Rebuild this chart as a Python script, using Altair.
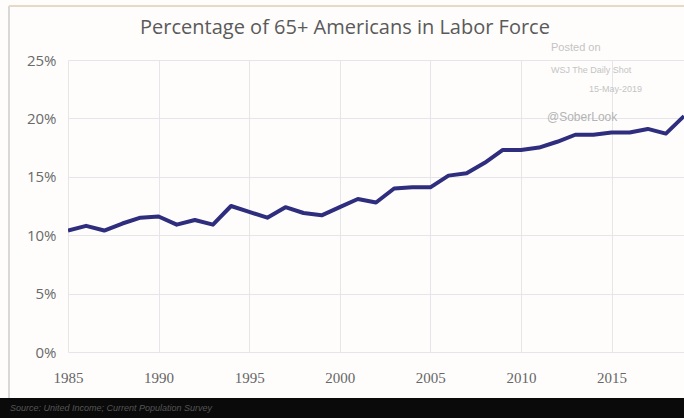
import altair as alt
import pandas as pd

years = list(range(1985, 2020))
share = [10.4, 10.8, 10.4, 11.0, 11.5, 11.6, 10.9, 11.3, 10.9, 12.5,
         12.0, 11.5, 12.4, 11.9, 11.7, 12.4, 13.1, 12.8, 14.0, 14.1,
         14.1, 15.1, 15.3, 16.2, 17.3, 17.3, 17.5, 18.0, 18.6, 18.6,
         18.8, 18.8, 19.1, 18.7, 20.2]
x_ticks = [1985, 1990, 1995, 2000, 2005, 2010, 2015]
y_ticks = [0, 5, 10, 15, 20, 25]

title_text = "Percentage of 65+ Americans in Labor Force"
source_text = "Source: United Income; Current Population Survey"
watermark = ["Posted on", "WSJ  The Daily Shot", "15-May-2019", "@SoberLook"]

df = pd.DataFrame({"year": years, "share": share})

W, H = 616, 292
L, T = 68, 60

x_enc = alt.X("year:Q", scale=alt.Scale(domain=[1985, 2019], nice=False),
              axis=alt.Axis(values=x_ticks, format="d", title=None, grid=True,
                            gridColor="#e6e6ea", gridWidth=1, domain=False, ticks=False,
                            labelFlush=False,
                            labelFont="Liberation Serif", labelFontSize=15,
                            labelColor="#666666", labelPadding=18))
y_enc = alt.Y("share:Q", scale=alt.Scale(domain=[0, 25], nice=False),
              axis=alt.Axis(values=y_ticks, title=None, grid=True,
                            gridColor="#e6e6ea", gridWidth=1, domain=False, ticks=False,
                            labelFlush=False,
                            labelExpr="datum.value + '%'",
                            labelFont="Open Sans", labelFontSize=15, labelFontWeight=500,
                            labelColor="#6a6a6a", labelPadding=12))

line = alt.Chart(df).mark_line(color="#2e2d7e", strokeWidth=4, clip=True,
                               strokeJoin="round").encode(x=x_enc, y=y_enc)

title = alt.Chart(pd.DataFrame({"t": [title_text]})).mark_text(
    font="Open Sans", fontSize=20, fontWeight=500, color="#5a5a5a", align="center", baseline="middle"
).encode(text="t:N", x=alt.value(345 - L), y=alt.value(28 - T))

wm_df = pd.DataFrame({"t": watermark})
wm1 = alt.Chart(wm_df.iloc[[0]]).mark_text(font="Liberation Sans", fontSize=11, color="#c4c4c4",
                                          align="left", baseline="middle").encode(
    text="t:N", x=alt.value(551 - L), y=alt.value(48 - T))
wm2 = alt.Chart(wm_df.iloc[[1]]).mark_text(font="Liberation Sans", fontSize=9, color="#c4c4c4",
                                          align="left", baseline="middle").encode(
    text="t:N", x=alt.value(551 - L), y=alt.value(70 - T))
wm3 = alt.Chart(wm_df.iloc[[2]]).mark_text(font="Liberation Sans", fontSize=9, color="#c4c4c4",
                                          align="left", baseline="middle").encode(
    text="t:N", x=alt.value(589 - L), y=alt.value(89 - T))
wm4 = alt.Chart(wm_df.iloc[[3]]).mark_text(font="Liberation Sans", fontSize=12, color="#b4b4b4",
                                          align="left", baseline="middle").encode(
    text="t:N", x=alt.value(547 - L), y=alt.value(117 - T))

band = alt.Chart(pd.DataFrame({"a": [0]})).mark_rect(color="#0a0a0a", clip=False).encode(
    x=alt.value(-L), x2=alt.value(W), y=alt.value(398 - T), y2=alt.value(418 - T))
src = alt.Chart(pd.DataFrame({"t": [source_text]})).mark_text(
    font="Liberation Sans", fontSize=9, fontStyle="italic", color="#555555",
    align="left", baseline="middle").encode(text="t:N", x=alt.value(10 - L), y=alt.value(408 - T))

left_border = alt.Chart(pd.DataFrame({"a": [0]})).mark_rule(color="#d8d8d8", strokeWidth=2).encode(
    x=alt.value(9 - L), y=alt.value(6 - T), y2=alt.value(398 - T))
top_border = alt.Chart(pd.DataFrame({"a": [0]})).mark_rule(color="#e8d8c8", strokeWidth=2).encode(
    x=alt.value(9 - L), x2=alt.value(W), y=alt.value(6 - T))

chart = alt.layer(line, title, wm1, wm2, wm3, wm4, band, src, left_border, top_border).properties(
    width=W, height=H,
    autosize=alt.AutoSizeParams(type="none"),
    padding={"left": L, "top": T, "right": 0, "bottom": 418 - T - H},
    background="#fefdfc",
).configure_view(strokeWidth=0)

chart.save("out.html", embed_options={"renderer": "svg", "actions": False})
